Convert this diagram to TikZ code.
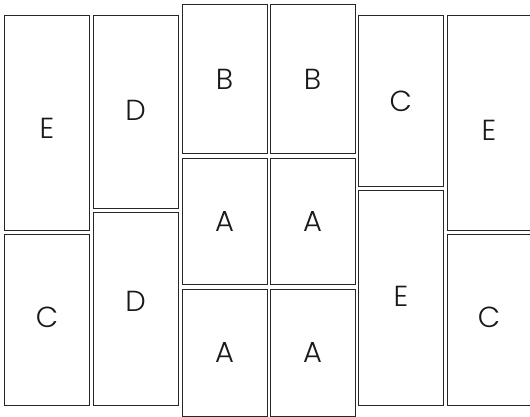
\documentclass[tikz,border=0pt]{standalone}
\usepackage{fontspec}
\setmainfont{Poppins}[UprightFont=* Light]
\begin{document}
\begin{tikzpicture}[x=1pt,y=-1pt,
  panel/.style={draw=black!85,line width=1pt},
  lbl/.style={font=\fontsize{29}{29}\selectfont,text=black!90,inner sep=0pt}]
\useasboundingbox (0,0) rectangle (530,417);
% boxes
\draw[panel] (4,15.3) rectangle (89,230);
\draw[panel] (4,234.3) rectangle (89,405);
\draw[panel] (93,15.3) rectangle (178,208);
\draw[panel] (93,212.7) rectangle (178,405);
\draw[panel] (182,4.7) rectangle (267,154);
\draw[panel] (182,158.3) rectangle (267,284.7);
\draw[panel] (182,289.3) rectangle (267,416);
\draw[panel] (270,4.7) rectangle (355,154);
\draw[panel] (270,158.3) rectangle (355,284.7);
\draw[panel] (270,289.3) rectangle (355,416);
\draw[panel] (358,15.3) rectangle (443.7,186);
\draw[panel] (358,190.7) rectangle (443.7,405);
\draw[panel] (447.3,15.3) rectangle (540,230);
\draw[panel] (447.3,234.7) rectangle (540,405);
% labels
\node[lbl] (l1) at (47,128.5) {E};
\node[lbl] (l2) at (47,317) {C};
\node[lbl] (l3) at (135.5,110.5) {D};
\node[lbl] (l4) at (135.5,301) {D};
\node[lbl] (l5) at (224.5,79.7) {B};
\node[lbl] (l6) at (224.5,221.5) {A};
\node[lbl] (l7) at (224.5,352.7) {A};
\node[lbl] (l8) at (312.5,79.7) {B};
\node[lbl] (l9) at (312.5,221.5) {A};
\node[lbl] (l10) at (312.5,352.7) {A};
\node[lbl] (l11) at (400.8,101.7) {C};
\node[lbl] (l12) at (400.8,296) {E};
\node[lbl] (l13) at (489,130) {E};
\node[lbl] (l14) at (489,317) {C};
\end{tikzpicture}
\end{document}
